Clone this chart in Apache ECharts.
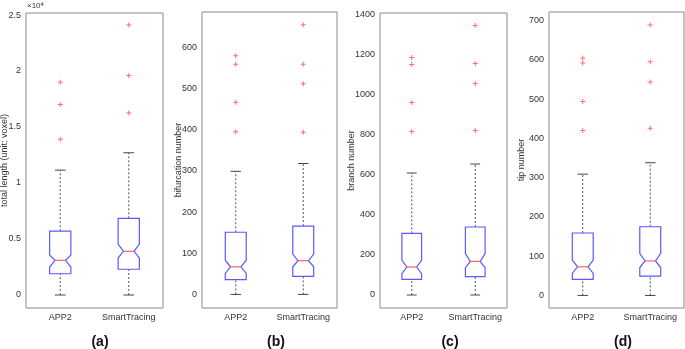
<!DOCTYPE html>
<html>
<head>
<meta charset="utf-8">
<script src="https://cdn.jsdelivr.net/npm/echarts@6/dist/echarts.min.js"></script>
<style>
  html, body { margin: 0; padding: 0; background: #fff; }
  #chart { width: 685px; height: 349px; }
</style>
</head>
<body>
<div id="chart"></div>
<script>
const categories = ['APP2', 'SmartTracing']

// each box: [lower whisker, q1, notch low, median, notch high, q3, upper whisker]
const lengthApp2 = [0, 1900, 2500, 3100, 3570, 5700, 11150]
const lengthSmart = [0, 2300, 3300, 3900, 4550, 6850, 12700]
const lengthOutApp2 = [19000, 17000, 13900]
const lengthOutSmart = [24100, 19600, 16250]

const bifApp2 = [0, 36, 51, 67, 83, 151, 299]
const bifSmart = [0, 44, 67, 82, 98, 166, 318]
const bifOutApp2 = [580, 559, 467, 395]
const bifOutSmart = [655, 559, 512, 394]

const branchApp2 = [0, 78, 107, 140, 173, 308, 610]
const branchSmart = [0, 92, 137, 168, 207, 340, 655]
const branchOutApp2 = [1187, 1153, 962, 818]
const branchOutSmart = [1348, 1157, 1058, 822]

const tipApp2 = [0, 41, 56, 73, 90, 159, 309]
const tipSmart = [0, 49, 71, 88, 107, 175, 338]
const tipOutApp2 = [605, 592, 494, 420]
const tipOutSmart = [689, 595, 544, 426]

const lengthTicks = [0, 5000, 10000, 15000, 20000, 25000]
const bifTicks = [0, 100, 200, 300, 400, 500, 600]
const branchTicks = [0, 200, 400, 600, 800, 1000, 1200, 1400]
const tipTicks = [0, 100, 200, 300, 400, 500, 600, 700]

const panels = [
  { label: '(a)', name: 'total length (unit: voxel)', boxes: [lengthApp2, lengthSmart], outs: [lengthOutApp2, lengthOutSmart], ticks: lengthTicks, min: -1160, max: 25180, fmt: v => v / 10000, grid: { left: 26, top: 13, width: 137, height: 295 }, nameGap: 17, labelX: 100 },
  { label: '(b)', name: 'bifurcation number', boxes: [bifApp2, bifSmart], outs: [bifOutApp2, bifOutSmart], ticks: bifTicks, min: -33, max: 686, fmt: v => v, grid: { left: 202, top: 12, width: 135, height: 296 }, nameGap: 19, labelX: 276 },
  { label: '(c)', name: 'branch number', boxes: [branchApp2, branchSmart], outs: [branchOutApp2, branchOutSmart], ticks: branchTicks, min: -65, max: 1410, fmt: v => v, grid: { left: 380, top: 13, width: 127, height: 295 }, nameGap: 24, labelX: 450 },
  { label: '(d)', name: 'tip number', boxes: [tipApp2, tipSmart], outs: [tipOutApp2, tipOutSmart], ticks: tipTicks, min: -32, max: 722, fmt: v => v, grid: { left: 549, top: 12, width: 135, height: 296 }, nameGap: 23, labelX: 623 }
]

const font = 'Liberation Sans, Arial, sans-serif'
const textColor = '#333'
const frameColor = '#8a8a8a'

const renderBox = (params, api) => {
  const x = api.value(0)
  const pts = [1, 2, 3, 4, 5, 6, 7].map(i => api.coord([x, api.value(i)]))
  const cx = pts[0][0]
  const band = api.size([1, 0])[0]
  const hw = band * 0.155
  const nw = hw * 0.5
  const [yLow, yQ1, yNlo, yMed, yNhi, yQ3, yHigh] = pts.map(p => p[1])
  const dash = { stroke: '#555', lineWidth: 1, lineDash: [2, 2] }
  const cap = { stroke: '#444', lineWidth: 1 }
  return {
    type: 'group',
    children: [
      { type: 'line', shape: { x1: cx, y1: yQ3, x2: cx, y2: yHigh }, style: dash },
      { type: 'line', shape: { x1: cx, y1: yLow, x2: cx, y2: yQ1 }, style: dash },
      { type: 'line', shape: { x1: cx - nw, y1: yHigh, x2: cx + nw, y2: yHigh }, style: cap },
      { type: 'line', shape: { x1: cx - nw, y1: yLow, x2: cx + nw, y2: yLow }, style: cap },
      {
        type: 'polygon',
        shape: {
          points: [
            [cx - hw, yQ3], [cx + hw, yQ3], [cx + hw, yNhi], [cx + nw, yMed], [cx + hw, yNlo],
            [cx + hw, yQ1], [cx - hw, yQ1], [cx - hw, yNlo], [cx - nw, yMed], [cx - hw, yNhi]
          ]
        },
        style: { fill: 'none', stroke: '#5a5aff', lineWidth: 1.2 }
      },
      { type: 'line', shape: { x1: cx - nw, y1: yMed, x2: cx + nw, y2: yMed }, style: { stroke: '#ff6060', lineWidth: 1.2 } }
    ]
  }
}

const plusPath = 'path://M4,0H6V4H10V6H6V10H4V6H0V4H4Z'

const grid = []
const xAxis = []
const yAxis = []
const series = []
const graphic = []

panels.forEach((p, i) => {
  grid.push({ ...p.grid, show: true, borderColor: frameColor, borderWidth: 1, backgroundColor: '#fff', outerBoundsMode: 'none', containLabel: false })
  const catAxis = {
    type: 'category',
    gridIndex: i,
    data: categories,
    axisLine: { show: false },
    axisTick: { inside: true, alignWithLabel: true, length: 3, lineStyle: { color: frameColor } },
    splitLine: { show: false }
  }
  xAxis.push({ ...catAxis, position: 'bottom', axisLabel: { interval: 0, hideOverlap: false, color: textColor, fontFamily: font, fontSize: 9, margin: 5 } })
  xAxis.push({ ...catAxis, position: 'top', axisLabel: { show: false } })
  const valAxis = {
    type: 'value',
    gridIndex: i,
    min: p.min,
    max: p.max,
    axisLine: { show: false },
    splitLine: { show: false },
    axisTick: { inside: true, length: 3, customValues: p.ticks, lineStyle: { color: frameColor } }
  }
  yAxis.push({
    ...valAxis,
    position: 'left',
    name: p.name,
    nameLocation: 'middle',
    nameRotate: 90,
    nameGap: p.nameGap,
    nameMoveOverlap: false,
    nameTextStyle: { color: textColor, fontFamily: font, fontSize: 9 },
    axisLabel: { color: textColor, fontFamily: font, fontSize: 9, margin: 5, customValues: p.ticks, formatter: p.fmt }
  })
  yAxis.push({ ...valAxis, position: 'right', axisLabel: { show: false } })

  series.push({
    type: 'custom',
    xAxisIndex: i * 2,
    yAxisIndex: i * 2,
    renderItem: renderBox,
    encode: { x: 0, y: [1, 2, 3, 4, 5, 6, 7] },
    data: p.boxes.map((b, k) => [k, ...b]),
    silent: true,
    z: 3
  })
  series.push({
    type: 'scatter',
    xAxisIndex: i * 2,
    yAxisIndex: i * 2,
    symbol: plusPath,
    symbolSize: 5,
    itemStyle: { color: '#ff4a4a' },
    data: p.outs.flatMap((vals, k) => vals.map(v => [k, v])),
    silent: true,
    z: 4
  })

  graphic.push({
    type: 'text',
    x: p.labelX,
    y: 342,
    style: { text: p.label, font: 'bold 14px ' + font, fill: '#111', textAlign: 'center', textVerticalAlign: 'middle' }
  })
})

graphic.push({
  type: 'text',
  x: 27,
  y: 1,
  style: {
    text: '×10{s|4}',
    font: '8px ' + font,
    fill: textColor,
    rich: { s: { fontSize: 6, fontFamily: font, verticalAlign: 'top', padding: [0, 0, 4, 0] } }
  }
})

const chart = echarts.init(document.getElementById('chart'))
chart.setOption({
  animation: false,
  backgroundColor: '#fff',
  grid,
  xAxis,
  yAxis,
  series,
  graphic
})

window.addEventListener('resize', () => chart.resize())
</script>
</body>
</html>
